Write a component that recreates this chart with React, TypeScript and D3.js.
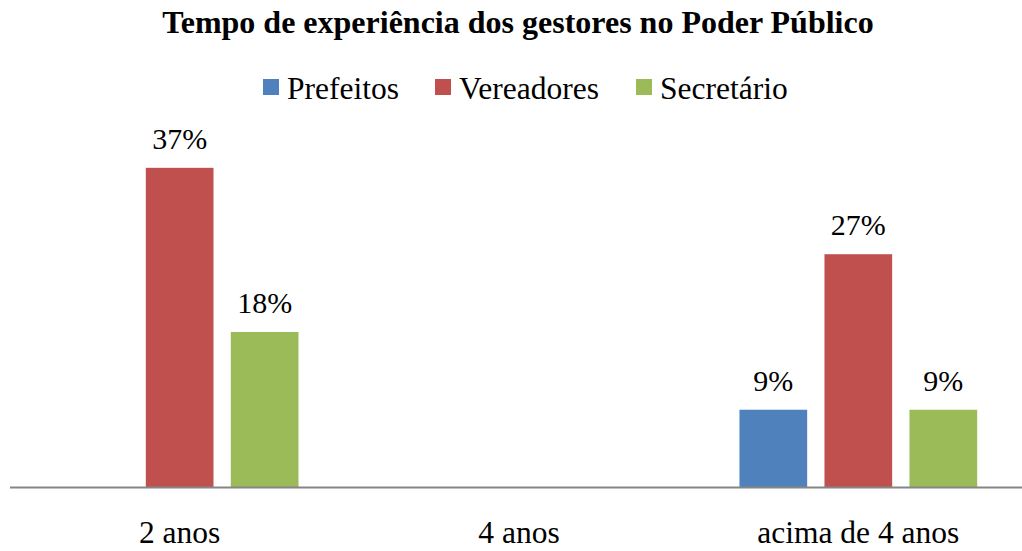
import { useEffect, useRef } from 'react';
import * as d3 from 'd3';

// --- Data ---
const categories = ['2 anos', '4 anos', 'acima de 4 anos'];
const seriesNames = ['Prefeitos', 'Vereadores', 'Secretário'];
const seriesColors = ['#4f81bd', '#c0504d', '#9bbb59'];
const prefeitos = [0, 0, 9];
const vereadores = [37, 0, 27];
const secretario = [18, 0, 9];
const seriesValues = [prefeitos, vereadores, secretario];

const W = 1022;
const H = 551;
const FONT = '"Liberation Serif", "Times New Roman", serif';

const App = () => {
    const svgRef = useRef<SVGSVGElement>(null);

    useEffect(() => {
        if (!svgRef.current) return;
        const svg = d3.select(svgRef.current);
        svg.selectAll('*').remove();

        const baseY = 487.5;
        const x0 = d3.scaleBand<string>().domain(categories).range([10, 1028]);
        const x1 = d3.scaleBand<string>()
            .domain(seriesNames)
            .range([50.8, 288.5])
            .paddingInner(0.2035);
        const y = d3.scaleLinear().domain([0, 40]).range([baseY, baseY - 345.6]);

        // title
        svg.append('text')
            .attr('x', 518)
            .attr('y', 33)
            .attr('text-anchor', 'middle')
            .style('font-family', FONT)
            .style('font-weight', 'bold')
            .style('font-size', '32px')
            .text('Tempo de experiência dos gestores no Poder Público');

        // legend
        const legendX = [263, 435, 636];
        const legend = svg.append('g');
        seriesNames.forEach((s, i) => {
            legend.append('rect')
                .attr('x', legendX[i])
                .attr('y', 79)
                .attr('width', 16)
                .attr('height', 16)
                .attr('fill', seriesColors[i]);
            legend.append('text')
                .attr('x', legendX[i] + 24)
                .attr('y', 98.5)
                .style('font-family', FONT)
                .style('font-size', '31.5px')
                .text(s);
        });

        // bars
        const g = svg.append('g');
        categories.forEach((c, ci) => {
            seriesNames.forEach((s, si) => {
                const v = seriesValues[si][ci];
                if (!v) return;
                const bx = (x0(c) as number) + (x1(s) as number);
                g.append('rect')
                    .attr('x', bx)
                    .attr('y', y(v))
                    .attr('width', x1.bandwidth())
                    .attr('height', baseY - y(v))
                    .attr('fill', seriesColors[si]);
                g.append('text')
                    .attr('x', bx + x1.bandwidth() / 2)
                    .attr('y', y(v) - 19)
                    .attr('text-anchor', 'middle')
                    .style('font-family', FONT)
                    .style('font-size', '30px')
                    .text(`${v}%`);
            });
        });

        // axis line
        svg.append('line')
            .attr('x1', 10)
            .attr('x2', W)
            .attr('y1', baseY)
            .attr('y2', baseY)
            .attr('stroke', '#868686')
            .attr('stroke-width', 2);

        // category labels
        categories.forEach(c => {
            svg.append('text')
                .attr('x', (x0(c) as number) + x0.bandwidth() / 2)
                .attr('y', 543)
                .attr('text-anchor', 'middle')
                .style('font-family', FONT)
                .style('font-size', '31.5px')
                .text(c);
        });
    }, []);

    return (
        <svg
            ref={svgRef}
            width={W}
            height={H}
            style={{ position: 'absolute', top: 0, left: 0, background: '#fff' }}
        />
    );
};

export default App;
